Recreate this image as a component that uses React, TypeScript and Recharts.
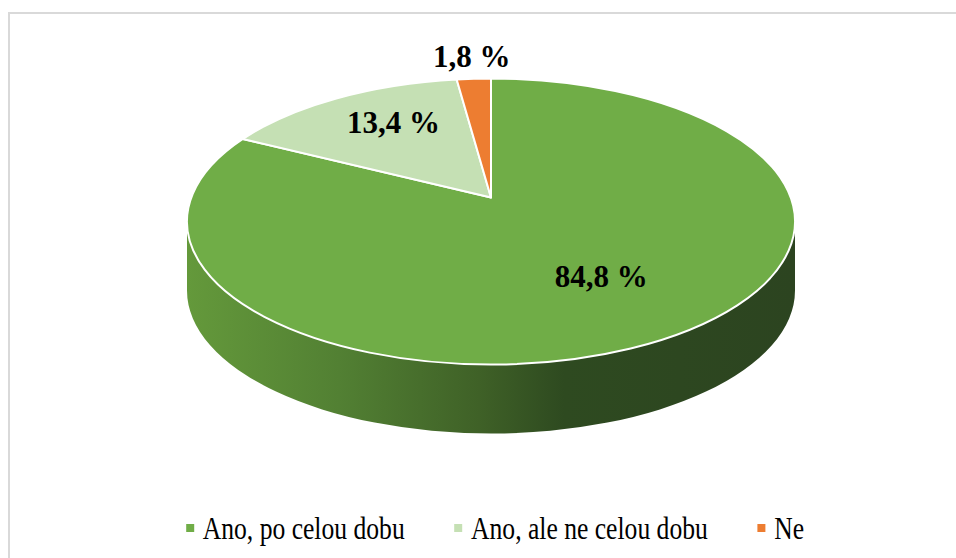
import React from "react";
import { PieChart, Pie, Cell, Legend } from "recharts";

// values (percent of respondents)
const categories = ["Ano, po celou dobu", "Ano, ale ne celou dobu", "Ne"];
const shares = [84.8, 13.4, 1.8];
const sliceColors = ["#70ad47", "#c5e0b4", "#ed7d31"];

// label placement per slice, as fractions of the ellipse radii (from apex)
const labelRadiusX = [0.79, 0.63, 1.12];
const labelRadiusY = [0.62, 0.61, 0.99];

const data = categories.map((name, i) => ({ name, value: shares[i] }));

const W = 948;
const H = 550;
const CX = 483;
const CY = 213.5;
const RX = 304;
const TILT = 143 / 304; // vertical squash of the top surface
const APEX_SHIFT = 24; // slices meet a bit above the ellipse centre (perspective)
const DEPTH = 69;

const pt = (cx: number, cy: number, rx: number, ry: number, deg: number) => {
  const r = (deg * Math.PI) / 180;
  return [cx + rx * Math.cos(r), cy - ry * Math.sin(r)];
};

const TopShape = (props: any) => {
  const { cx, cy, outerRadius, startAngle, endAngle, fill } = props;
  const rx = outerRadius;
  const ry = outerRadius * TILT;
  const apexY = cy - APEX_SHIFT;
  const [x1, y1] = pt(cx, cy, rx, ry, startAngle);
  const [x2, y2] = pt(cx, cy, rx, ry, endAngle);
  const large = Math.abs(endAngle - startAngle) > 180 ? 1 : 0;
  const sweep = startAngle > endAngle ? 1 : 0;
  const d = `M${cx},${apexY} L${x1},${y1} A${rx},${ry} 0 ${large} ${sweep} ${x2},${y2} Z`;
  return <path d={d} fill={fill} stroke="#ffffff" strokeWidth={2} strokeLinejoin="round" />;
};

const WallShape = (props: any) => {
  const { cx, cy, outerRadius, startAngle, endAngle, index } = props;
  const rx = outerRadius;
  const ry = outerRadius * TILT;
  const lo = Math.min(startAngle, endAngle);
  const hi = Math.max(startAngle, endAngle);
  const gid = `wallGrad${index}`;
  const paths: string[] = [];
  // only the front half (lower half on screen) of the side is visible
  for (let k = -2; k <= 2; k++) {
    const a = Math.max(lo, -180 + 360 * k);
    const b = Math.min(hi, 360 * k);
    if (b > a) {
      const [ax, ay] = pt(cx, cy, rx, ry, a);
      const [bx, by] = pt(cx, cy, rx, ry, b);
      paths.push(
        `M${ax},${ay} A${rx},${ry} 0 0 0 ${bx},${by} L${bx},${by + DEPTH} A${rx},${ry} 0 0 1 ${ax},${ay + DEPTH} Z`
      );
    }
  }
  return (
    <g>
      <defs>
        <linearGradient id={gid} gradientUnits="userSpaceOnUse" x1={cx - rx} y1={0} x2={cx + rx} y2={0}>
          <stop offset="0%" stopColor="#64993b" />
          <stop offset="25%" stopColor="#528033" />
          <stop offset="48%" stopColor="#3f6127" />
          <stop offset="62%" stopColor="#2e4a20" />
          <stop offset="100%" stopColor="#2c4420" />
        </linearGradient>
      </defs>
      {paths.map((d, i) => (
        <path key={i} d={d} fill={`url(#${gid})`} stroke="none" />
      ))}
    </g>
  );
};

const renderLabel = (props: any) => {
  const { cx, cy, outerRadius, midAngle, index, value } = props;
  const rx = outerRadius;
  const ry = outerRadius * TILT;
  const r = (midAngle * Math.PI) / 180;
  const x = cx + labelRadiusX[index] * rx * Math.cos(r);
  const y = cy - APEX_SHIFT - labelRadiusY[index] * ry * Math.sin(r);
  const text = value.toFixed(1).replace(".", ",") + " %";
  return (
    <text
      x={x}
      y={y}
      textAnchor="middle"
      dominantBaseline="central"
      fill="#000000"
      fontFamily="'Liberation Serif', serif"
      fontWeight="bold"
      fontSize={31}
    >
      {text}
    </text>
  );
};

// legend drawn from the same category / colour arrays as the slices
const LegendContent = () => (
  <div
    style={{
      display: "flex",
      justifyContent: "center",
      alignItems: "center",
      transform: "scaleX(0.8)",
      transformOrigin: "center",
      fontFamily: "'Liberation Serif', serif",
      fontSize: 32,
      color: "#000",
      lineHeight: "36px",
      whiteSpace: "nowrap",
    }}
  >
    {categories.map((name, i) => (
      <div
        key={name}
        style={{ display: "flex", alignItems: "center", flexShrink: 0, marginLeft: i === 0 ? 0 : 62 }}
      >
        <span style={{ display: "inline-block", width: 10, height: 8, background: sliceColors[i], marginRight: 11 }} />
        <span>{name}</span>
      </div>
    ))}
  </div>
);

export default function App() {
  return (
    <div
      style={{
        position: "fixed",
        left: 8,
        top: 8,
        width: W,
        height: H,
        overflow: "hidden",
        background: "#fff",
      }}
    >
      {/* chart frame: only its top and left edges fall inside the picture */}
      <div style={{ position: "absolute", left: 0, top: 4, width: W, height: 2, background: "#d9d9d9" }} />
      <div style={{ position: "absolute", left: 0, top: 4, width: 2, height: H, background: "#d9d9d9" }} />
      <div style={{ position: "absolute", left: 0, top: 0 }}>
        <PieChart width={W} height={H} margin={{ top: 0, right: 0, bottom: 0, left: 0 }}>
          <Pie
            data={data}
            dataKey="value"
            nameKey="name"
            cx={CX}
            cy={CY}
            outerRadius={RX}
            startAngle={90}
            endAngle={-270}
            shape={WallShape}
            inactiveShape={WallShape}
            activeShape={WallShape}
            legendType="none"
            isAnimationActive={false}
          >
            {data.map((d, i) => (
              <Cell key={d.name} fill={sliceColors[i]} />
            ))}
          </Pie>
          <Pie
            data={data}
            dataKey="value"
            nameKey="name"
            cx={CX}
            cy={CY}
            outerRadius={RX}
            startAngle={90}
            endAngle={-270}
            shape={TopShape}
            inactiveShape={TopShape}
            activeShape={TopShape}
            label={renderLabel}
            labelLine={false}
            legendType="square"
            isAnimationActive={false}
          >
            {data.map((d, i) => (
              <Cell key={d.name} fill={sliceColors[i]} />
            ))}
          </Pie>
          <Legend
            content={LegendContent}
            wrapperStyle={{ position: "absolute", left: 13, top: 502, width: W }}
          />
        </PieChart>
      </div>
    </div>
  );
}
